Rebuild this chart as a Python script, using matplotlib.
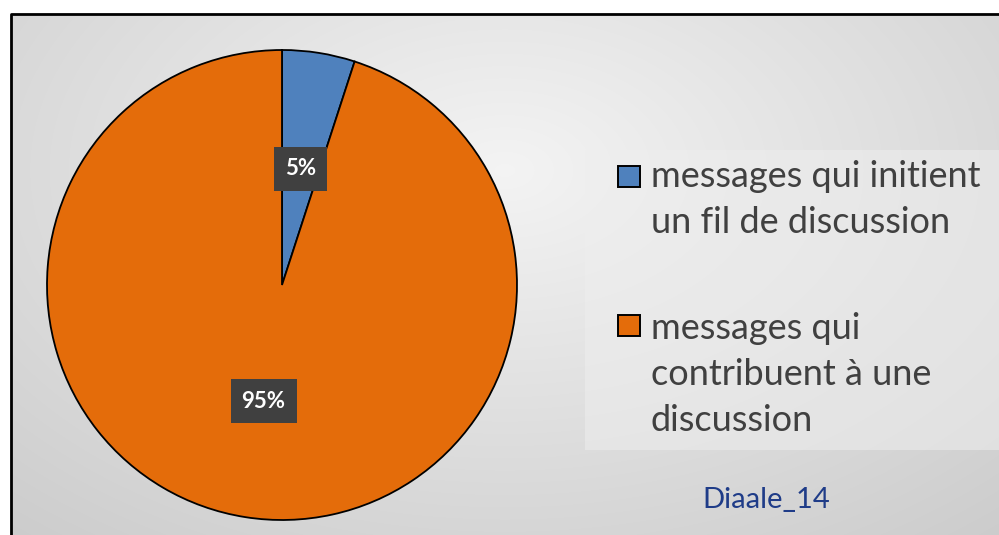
import numpy as np
import matplotlib
matplotlib.use("Agg")
import matplotlib.pyplot as plt
from matplotlib.patches import Rectangle
from matplotlib.lines import Line2D

# share of forum messages
labels = ["messages qui initient\nun fil de discussion",
          "messages qui\ncontribuent à une\ndiscussion"]
values = [5, 95]
colors = ["#4f81bd", "#e46c0a"]
source = "Diaale_14"

W, H = 999, 535
fig = plt.figure(figsize=(W / 100, H / 100), dpi=100)
fig.patch.set_facecolor("white")

# soft radial grey gradient inside the frame
fx, ftop = 11, 14
gh, gw = H - ftop, W - fx
yy, xx = np.mgrid[0:1:gh * 1j, 0:1:gw * 1j]
d = np.sqrt(((xx - 0.5) / 0.75) ** 2 + ((yy - 0.3) / 0.9) ** 2)
grad = np.clip(0.955 - 0.15 * d, 0.79, 0.955)
rgb = np.dstack([grad, grad, grad])
fig.figimage(rgb, xo=fx, yo=0, origin="upper", zorder=0)

# frame: only the left and top edges fall inside the image
fig.add_artist(Line2D([fx / W, fx / W, 1], [0, 1 - ftop / H, 1 - ftop / H],
                      transform=fig.transFigure, color="black", lw=2))

# legend panel
fig.add_artist(Rectangle((585 / W, (H - 450) / H), 1, 300 / H,
                         transform=fig.transFigure, facecolor="#eeeeee",
                         edgecolor="none", alpha=0.55, zorder=1))

ax = fig.add_axes([47 / W, 15 / H, 470 / W, 470 / H])
ax.set_zorder(2)
wedges, texts, autotexts = ax.pie(
    values, colors=colors, startangle=90, counterclock=False, radius=1,
    autopct="%d%%", pctdistance=0.5,
    wedgeprops=dict(edgecolor="black", linewidth=1.3),
    textprops=dict(color="white", fontsize=16, fontweight="bold",
                   family="Lato"))
for t in autotexts:
    t.set_bbox(dict(boxstyle="square,pad=0.5", facecolor="#404040",
                    edgecolor="none"))
ax.set_xlim(-1, 1)
ax.set_ylim(-1, 1)
ax.set_aspect("equal")
ax.axis("off")

# legend: swatch beside the first line of each label
swatch_top = [166, 315]
last_baseline = [233, 431]
for lab, col, st, bl in zip(labels, colors, swatch_top, last_baseline):
    fig.add_artist(Rectangle((618 / W, 1 - (st + 21) / H), 22 / W, 21 / H,
                             transform=fig.transFigure, facecolor=col,
                             edgecolor="black", linewidth=1.4, zorder=3))
    fig.text(651 / W, 1 - bl / H, lab, color="#404040", fontsize=26,
             family="Lato", ha="left", va="baseline", linespacing=1.48,
             zorder=3)

fig.text(766 / W, 1 - 500 / H, source, color="#1f3c88", fontsize=21,
         family="Lato", ha="center", va="center", zorder=3)

fig.savefig("out.png", dpi=100)
